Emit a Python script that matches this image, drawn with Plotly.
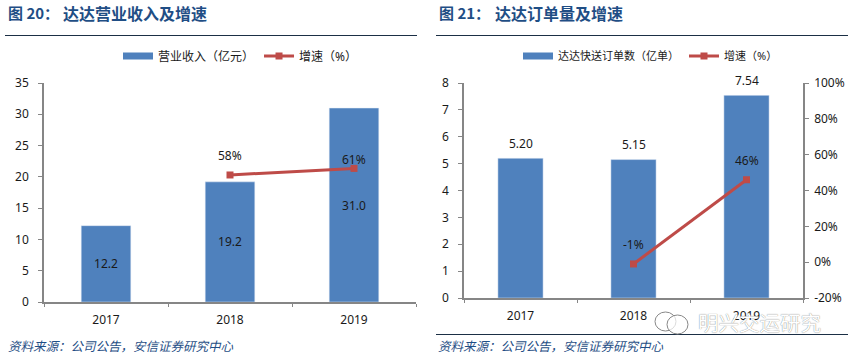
import plotly.graph_objects as go

W, H = 848, 359
FONT = "Noto Sans, Noto Sans CJK SC"
CJK = "Noto Sans CJK SC"
INK = "#1a1a1a"
NAVY = "#1F4E85"
AXIS = "#868686"
BAR = "#4F81BD"
LINE = "#BE4B48"

years = ["2017", "2018", "2019"]
growth_years = ["2018", "2019"]

revenue = [12.2, 19.2, 31.0]
revenue_growth = [58, 61]
revenue_growth_labels = ["58%", "61%"]
revenue_growth_shift = [19, 9]
revenue_ticks = [0, 5, 10, 15, 20, 25, 30, 35]

orders = [5.20, 5.15, 7.54]
orders_growth = [-1, 46]
orders_growth_labels = ["-1%", "46%"]
order_ticks = [0, 1, 2, 3, 4, 5, 6, 7, 8]
pct_ticks = [-20, 0, 20, 40, 60, 80, 100]


def X(p):
    return p / W


def Y(p):
    return 1 - p / H


fig = go.Figure()
fig.add_trace(go.Bar(x=years, y=revenue, marker_color=BAR, width=0.4, showlegend=False,
                     text=[f"{v:.1f}" for v in revenue], textposition="inside", insidetextanchor="middle",
                     textangle=0, textfont=dict(size=12, color=INK, family=FONT),
                     xaxis="x", yaxis="y"))
fig.add_trace(go.Scatter(x=[None], y=[None], name="营业收入（亿元）", mode="lines",
                         line=dict(color=BAR, width=7), xaxis="x", yaxis="y", legend="legend"))
fig.add_trace(go.Scatter(x=growth_years, y=revenue_growth, name="增速（%）", mode="lines+markers",
                         line=dict(color=LINE, width=3), marker=dict(symbol="square", size=7, color=LINE),
                         xaxis="x", yaxis="y2", legend="legend"))
fig.add_trace(go.Bar(x=years, y=orders, marker_color=BAR, width=0.4, showlegend=False,
                     xaxis="x2", yaxis="y3"))
fig.add_trace(go.Scatter(x=[None], y=[None], name="达达快送订单数（亿单）", mode="lines",
                         line=dict(color=BAR, width=7), xaxis="x2", yaxis="y3", legend="legend2"))
fig.add_trace(go.Scatter(x=growth_years, y=orders_growth, name="增速（%）", mode="lines+markers",
                         line=dict(color=LINE, width=3), marker=dict(symbol="square", size=7, color=LINE),
                         xaxis="x2", yaxis="y4", legend="legend2"))

annotations = []


def note(text, x, y, size=12, color=INK, family=FONT, anchor="center", **kw):
    annotations.append(dict(text=text, x=x, y=y, xref="paper", yref="paper", showarrow=False,
                            xanchor=anchor, yanchor="middle",
                            font=dict(size=size, color=color, family=family, **kw.pop("font_extra", {})), **kw))


for x, v, lab, s in zip(growth_years, revenue_growth, revenue_growth_labels, revenue_growth_shift):
    annotations.append(dict(text=lab, x=years.index(x), y=v, xref="x", yref="y2", yshift=s, showarrow=False,
                            font=dict(size=12, color=INK, family=FONT)))
for x, v, lab in zip(growth_years, orders_growth, orders_growth_labels):
    annotations.append(dict(text=lab, x=years.index(x), y=v, xref="x2", yref="y4", yshift=19, showarrow=False,
                            font=dict(size=12, color=INK, family=FONT)))
for x, v in zip(years, orders):
    annotations.append(dict(text=f"{v:.2f}", x=years.index(x), y=v, xref="x2", yref="y3", yshift=15, showarrow=False,
                            font=dict(size=12, color=INK, family=FONT)))

note("<b>图 20：</b>", X(6), Y(12.5), 15, NAVY, CJK, "left")
note("<b>达达营业收入及增速</b>", X(61), Y(12.5), 16, NAVY, CJK, "left")
note("<b>图 21：</b>", X(437), Y(12.5), 15, NAVY, CJK, "left")
note("<b>达达订单量及增速</b>", X(493), Y(12.5), 16, NAVY, CJK, "left")
note("<i>资料来源：公司公告，安信证券研究中心</i>", X(6), Y(345), 12.5, NAVY, CJK, "left")
note("<i>资料来源：公司公告，安信证券研究中心</i>", X(436), Y(345), 12.5, NAVY, CJK, "left")
note("明兴交运研究", X(696), Y(322), 20.5, "#ffffff", CJK, "left",
     font_extra=dict(shadow="0 0 1px #666666"))

shapes = [
    dict(type="line", xref="paper", yref="paper", x0=X(5), x1=X(417), y0=Y(35.5), y1=Y(35.5),
         line=dict(color="#1b2f45", width=1)),
    dict(type="line", xref="paper", yref="paper", x0=X(436), x1=X(848), y0=Y(35.5), y1=Y(35.5),
         line=dict(color="#1b2f45", width=1)),
    dict(type="line", xref="paper", yref="paper", x0=X(436), x1=X(848), y0=Y(334.5), y1=Y(334.5),
         line=dict(color="#1b2f45", width=1)),
    dict(type="circle", xref="paper", yref="paper", x0=X(655), x1=X(676), y0=Y(331), y1=Y(312),
         fillcolor="rgba(255,255,255,0.7)", line=dict(color="#888888", width=1)),
    dict(type="circle", xref="paper", yref="paper", x0=X(667), x1=X(688), y0=Y(334), y1=Y(315),
         fillcolor="rgba(255,255,255,0.7)", line=dict(color="#888888", width=1)),
]

tick = dict(size=12, color=INK, family=FONT)
common = dict(showgrid=False, zeroline=False, showline=True, linecolor=AXIS, linewidth=1.5,
              ticks="outside", tickcolor=AXIS, tickwidth=1, tickfont=tick)
legend_font = dict(size=12, color=INK, family=FONT + ", " + CJK)
legend2_font = dict(size=11, color=INK, family=FONT + ", " + CJK)

fig.update_layout(
    width=W, height=H, margin=dict(l=0, r=0, t=0, b=0, autoexpand=False), paper_bgcolor="white", plot_bgcolor="white",
    font=dict(family=FONT), hovermode=False,
    xaxis=dict(domain=[X(44), X(416)], type="category", categoryorder="array", categoryarray=years,
               tickson="boundaries", anchor="y", ticklen=3, ticklabelstandoff=6, **common),
    yaxis=dict(domain=[Y(302), Y(83)], range=[0, 35], tickvals=revenue_ticks, anchor="x",
               ticklen=4, ticklabelstandoff=7, **common),
    yaxis2=dict(domain=[Y(302), Y(83)], range=[0, 100], overlaying="y", visible=False, anchor="x"),
    xaxis2=dict(domain=[X(464), X(803)], type="category", categoryorder="array", categoryarray=years,
                tickson="boundaries", anchor="y3", ticklen=3, ticklabelstandoff=6, **common),
    yaxis3=dict(domain=[Y(298), Y(83)], range=[0, 8], tickvals=order_ticks, anchor="x2",
                ticklen=4, ticklabelstandoff=7, **common),
    yaxis4=dict(domain=[Y(298), Y(83)], range=[-20, 100], tickvals=pct_ticks, ticktext=[f"{v}%" for v in pct_ticks],
                overlaying="y3", side="right", anchor="x2", ticklen=4, ticklabelstandoff=3, **common),
    legend=dict(orientation="h", x=X(118), y=Y(56), xanchor="left", yanchor="middle", font=legend_font,
                itemwidth=30, bgcolor="rgba(0,0,0,0)"),
    legend2=dict(orientation="h", x=X(518), y=Y(56), xanchor="left", yanchor="middle", font=legend2_font,
                 itemwidth=30, bgcolor="rgba(0,0,0,0)"),
    annotations=annotations, shapes=shapes, showlegend=True,
)
fig.write_html("out.html", config={"displayModeBar": False}, post_script="document.body.style.margin='0';")
